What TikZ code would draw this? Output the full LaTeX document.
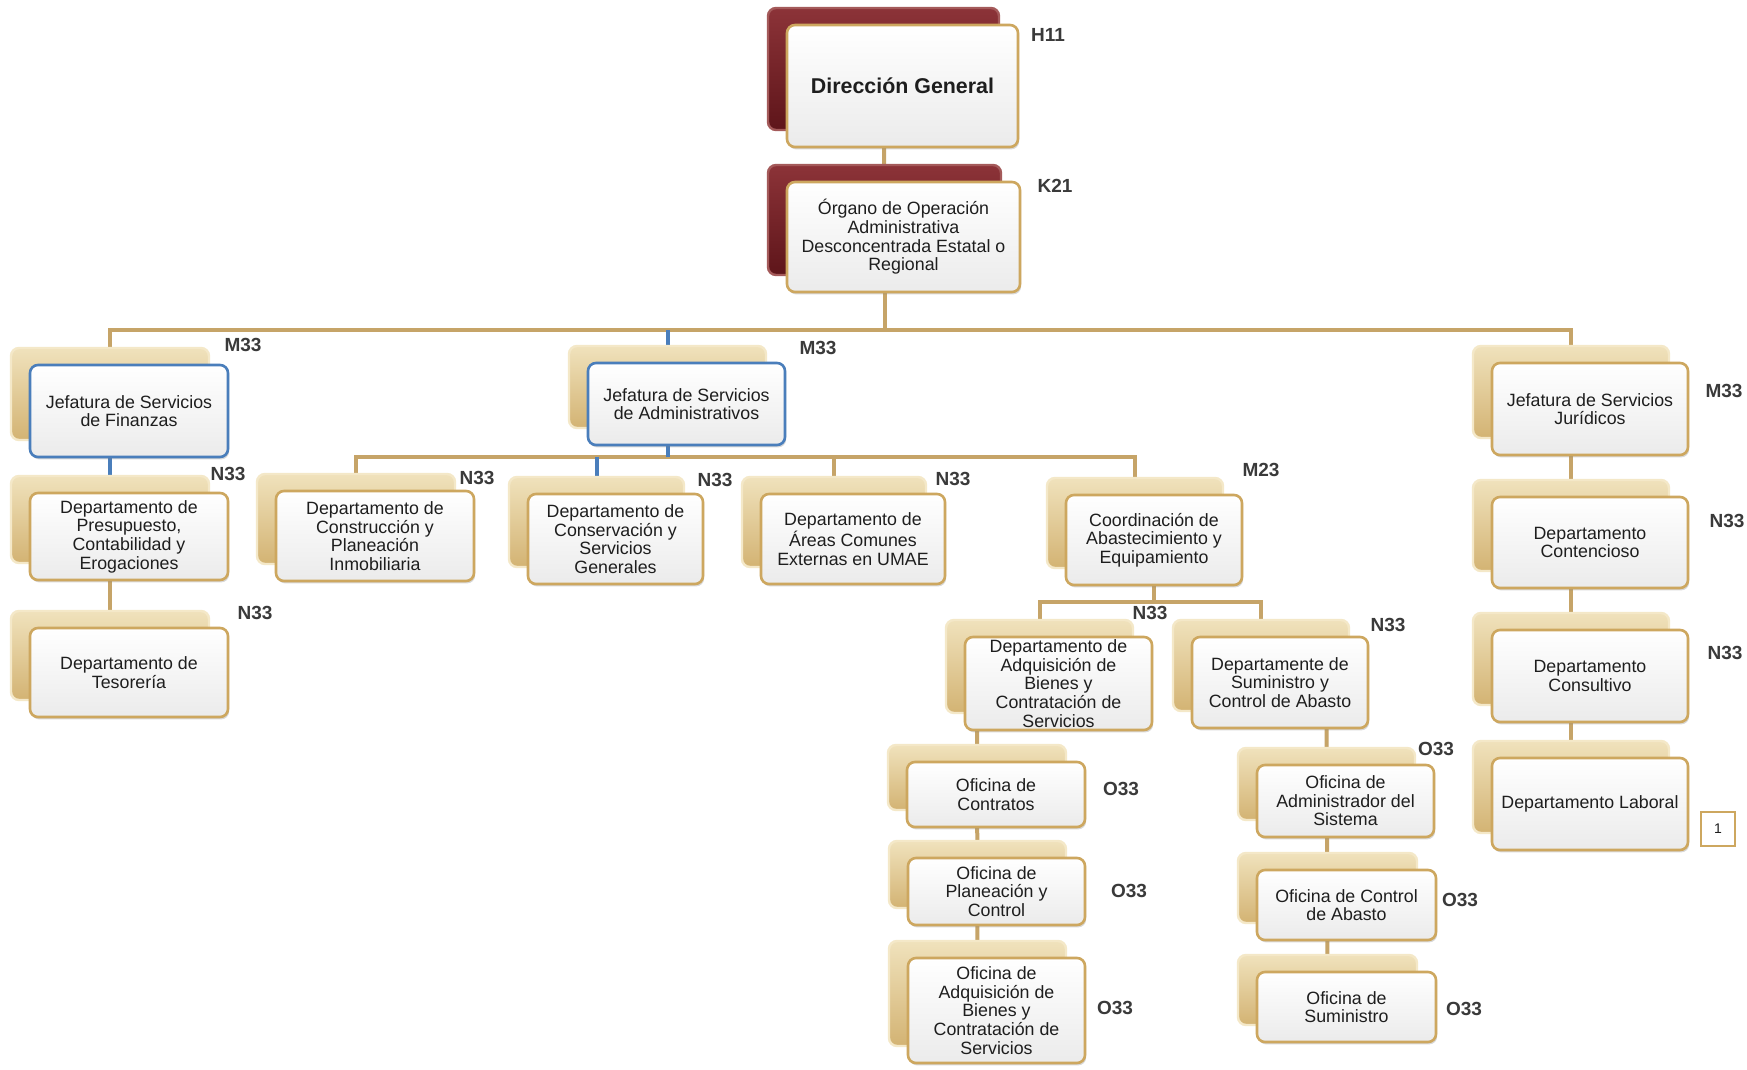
\documentclass[tikz,border=0pt]{standalone}
\usepackage{fontspec}
\setmainfont{Liberation Sans}
\usetikzlibrary{shadows,backgrounds}
\definecolor{conngold}{HTML}{C6A468}
\definecolor{connblue}{HTML}{4A7EBB}
\definecolor{cardborder}{HTML}{CDA75F}
\definecolor{cardbot}{HTML}{EBEBEB}
\definecolor{backtop}{HTML}{F0E2BC}
\definecolor{backbot}{HTML}{D3B373}
\definecolor{backedge}{HTML}{F4E8C8}
\definecolor{maroontop}{HTML}{8C3338}
\definecolor{maroonbot}{HTML}{5E151A}
\definecolor{maroonedge}{HTML}{A45A5A}
\definecolor{labelgray}{HTML}{3A3A3A}
\definecolor{txt}{HTML}{1E1E1E}
\tikzset{
  backcard/.style={rectangle, rounded corners=4pt, top color=backtop, bottom color=backbot, draw=backedge, line width=1.2pt, inner sep=0pt},
  backmaroon/.style={backcard, top color=maroontop, bottom color=maroonbot, draw=maroonedge},
  frontcard/.style={rectangle, rounded corners=4pt, top color=white, bottom color=cardbot, draw=cardborder,
    line width=1.3pt, inner sep=0pt, align=center, text=txt, font=\fontsize{8.9}{9.3}\selectfont,
    drop shadow={shadow xshift=0.6pt, shadow yshift=-1.2pt, opacity=0.3}},
  bluecard/.style={draw=connblue},
  plain/.style={},
  code/.style={font=\bfseries\fontsize{9.5}{10}\selectfont, text=labelgray, inner sep=0pt},
  conn/.style={draw=conngold, line width=2pt},
  connB/.style={draw=connblue, line width=2pt},
}
% #1 name, #2 x1, #3 y1, #4 x2, #5 y2, #6 back style, #7 front extra, #8 text
\newcommand\orgcard[8]{%
  \node[#6, minimum width={(#4-#2)*0.5pt}, minimum height={(#5-#3)*0.5pt}] (#1b) at ({(#2+#4)/2-19},{(#3+#5)/2-17}) {};
  \node[frontcard, #7, minimum width={(#4-#2)*0.5pt}, minimum height={(#5-#3)*0.5pt}] (#1) at ({(#2+#4)/2},{(#3+#5)/2}) {#8};
}
\begin{document}
\begin{tikzpicture}[x=0.5pt,y=-0.5pt]
\begin{pgfonlayer}{background}
  \fill[white] (0,0) rectangle (1747,1070);
\end{pgfonlayer}
\useasboundingbox (0,0) rectangle (1747,1070);

% cards
\orgcard{dir}{787}{25}{1018}{147}{backmaroon}{plain}{\bfseries\fontsize{10.7}{12}\selectfont Dirección General}
\orgcard{k21}{787}{182}{1020}{292}{backmaroon}{plain}{Órgano de Operación\\Administrativa\\Desconcentrada Estatal o\\Regional}
\orgcard{fin}{30}{365}{228}{457}{backcard}{bluecard}{Jefatura de Servicios\\de Finanzas}
\orgcard{pres}{30}{493}{228}{580}{backcard}{plain}{Departamento de\\Presupuesto,\\Contabilidad y\\Erogaciones}
\orgcard{tes}{30}{628}{228}{717}{backcard}{plain}{Departamento de\\Tesorería}
\orgcard{adm}{588}{363}{785}{445}{backcard}{bluecard}{Jefatura de Servicios\\de Administrativos}
\orgcard{con}{276}{491}{474}{581}{backcard}{plain}{Departamento de\\Construcción y\\Planeación\\Inmobiliaria}
\orgcard{cons}{528}{494}{703}{584}{backcard}{plain}{Departamento de\\Conservación y\\Servicios\\Generales}
\orgcard{are}{761}{494}{945}{584}{backcard}{plain}{Departamento de\\Áreas Comunes\\Externas en UMAE}
\orgcard{coo}{1066}{495}{1242}{585}{backcard}{plain}{Coordinación de\\Abastecimiento y\\Equipamiento}
\orgcard{adq}{965}{637}{1152}{730}{backcard}{plain}{Departamento de\\Adquisición de\\Bienes y\\Contratación de\\Servicios}
\orgcard{sum}{1192}{637}{1368}{728}{backcard}{plain}{Departamente de\\Suministro y\\Control de Abasto}
\orgcard{ofc}{907}{762}{1085}{827}{backcard}{plain}{Oficina de\\Contratos}
\orgcard{ofp}{908}{858}{1085}{925}{backcard}{plain}{Oficina de\\Planeación y\\Control}
\orgcard{ofa}{908}{958}{1085}{1063}{backcard}{plain}{Oficina de\\Adquisición de\\Bienes y\\Contratación de\\Servicios}
\orgcard{ofs}{1257}{765}{1434}{837}{backcard}{plain}{Oficina de\\Administrador del\\Sistema}
\orgcard{ofk}{1257}{870}{1436}{940}{backcard}{plain}{Oficina de Control\\de Abasto}
\orgcard{ofu}{1257}{972}{1436}{1042}{backcard}{plain}{Oficina de\\Suministro}
\orgcard{jur}{1492}{363}{1688}{455}{backcard}{plain}{Jefatura de Servicios\\Jurídicos}
\orgcard{cont}{1492}{497}{1688}{588}{backcard}{plain}{Departamento\\Contencioso}
\orgcard{consu}{1492}{630}{1688}{722}{backcard}{plain}{Departamento\\Consultivo}
\orgcard{lab}{1492}{758}{1688}{850}{backcard}{plain}{Departamento Laboral}

% level codes
\node[code] (cH11) at (1048,35) {H11};
\node[code] (cK21) at (1055,186) {K21};
\node[code] (cfin) at (243,345) {M33};
\node[code] (cadm) at (818,348) {M33};
\node[code] (cjur) at (1724,391) {M33};
\node[code] (cpres) at (228,474) {N33};
\node[code] (ctes) at (255,613) {N33};
\node[code] (ccon) at (477,478) {N33};
\node[code] (ccons) at (715,480) {N33};
\node[code] (care) at (953,479) {N33};
\node[code] (ccoo) at (1261,470) {M23};
\node[code] (cadq) at (1150,613) {N33};
\node[code] (csum) at (1388,625) {N33};
\node[code] (cofc) at (1121,789) {O33};
\node[code] (cofp) at (1129,891) {O33};
\node[code] (cofa) at (1115,1008) {O33};
\node[code] (cofs) at (1436,749) {O33};
\node[code] (cofk) at (1460,900) {O33};
\node[code] (cofu) at (1464,1009) {O33};
\node[code] (ccont) at (1727,521) {N33};
\node[code] (cconsu) at (1725,653) {N33};

% page number box
\node[draw=cardborder, line width=0.8pt, minimum width=17pt, minimum height=17pt, inner sep=0pt,
      font=\fontsize{7}{8}\selectfont, text=txt] (pg) at (1718,829) {1};

% connectors
\begin{pgfonlayer}{background}
  \coordinate (bus1) at (0,330);
  \coordinate (bus2) at (0,457);
  \coordinate (bus3) at (0,602);
  \draw[conn] (dirb.center) -- (k21b.center);
  \draw[conn] (k21b.center) -- (k21b.center |- bus1);
  \draw[conn] (finb.center) |- (jurb.center |- bus1) -- (jurb.center);
  \draw[connB] (admb.center) -- (admb.center |- bus1);
  \draw[connB] (finb.center) -- (presb.center);
  \draw[conn] (presb.center) -- (tesb.center);
  \draw[conn] (conb.center) |- (coob.center |- bus2) -- (coob.center);
  \draw[conn] (areb.center) -- (areb.center |- bus2);
  \draw[connB] (admb.center) -- (admb.center |- bus2);
  \draw[connB] (consb.center) -- (consb.center |- bus2);
  \draw[conn] (coo.center) -- (coo.center |- bus3);
  \draw[conn] (adqb.center) |- (sumb.center |- bus3) -- (sumb.center);
  \draw[conn] (ofcb.center |- adq.center) -- (ofab.center);
  \draw[conn] (ofsb.center |- sum.center) -- (ofub.center);
  \draw[conn] (jurb.center) -- (labb.center);
\end{pgfonlayer}
\end{tikzpicture}
\end{document}
